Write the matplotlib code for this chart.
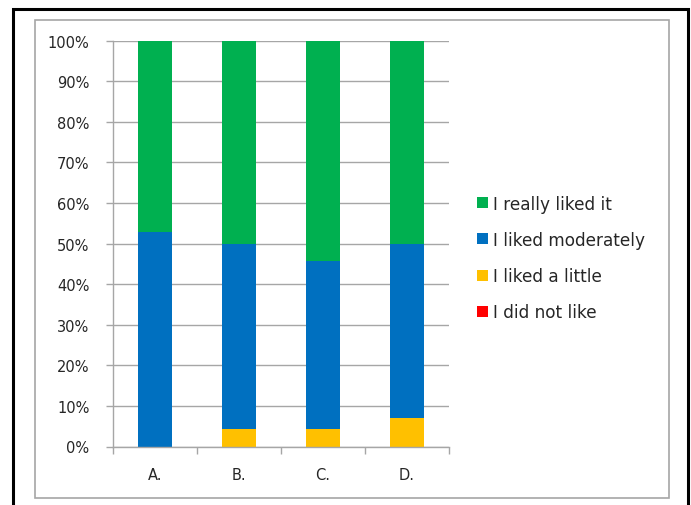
import matplotlib
matplotlib.use("Agg")
import matplotlib.pyplot as plt
from matplotlib.patches import Rectangle
from matplotlib.ticker import FuncFormatter, FixedLocator
import numpy as np

categories = ["A.", "B.", "C.", "D."]
did_not_like = [0.0, 0.0, 0.0, 0.0]
liked_little = [0.0, 4.2, 4.2, 7.1]
liked_moderately = [52.8, 45.8, 41.4, 42.9]
really_liked = [47.2, 50.0, 54.4, 50.0]

series_labels = ["I did not like", "I liked a little", "I liked moderately", "I really liked it"]
series_colors = ["#FF0000", "#FFC000", "#0070C0", "#00B050"]

plt.rcParams["font.family"] = ["DejaVu Sans"]

W, H = 691, 506
fig = plt.figure(figsize=(W / 100, H / 100), dpi=100)

# outer black frame and inner chart-area border
fig.patches.append(Rectangle((13 / W, -0.02), (688 - 13) / W, 1.02 - 10 / H,
                             transform=fig.transFigure, fill=False,
                             edgecolor="black", linewidth=2.2, zorder=0))
fig.patches.append(Rectangle((35 / W, 1 - 499 / H), (669 - 35) / W, (499 - 21) / H,
                             transform=fig.transFigure, fill=False,
                             edgecolor="#A6A6A6", linewidth=1.2, zorder=0))

ax = fig.add_axes([113 / W, 1 - 447.5 / H, (449 - 113) / W, (447.5 - 41.7) / H])

x = np.arange(len(categories))
bottom = np.zeros(len(categories))
handles = []
for vals, lab, col in zip([did_not_like, liked_little, liked_moderately, really_liked],
                          series_labels, series_colors):
    vals = np.array(vals)
    b = ax.bar(x, vals, width=0.405, bottom=bottom, color=col, label=lab,
               edgecolor="none", zorder=2)
    bottom += vals
    handles.append(b)

ax.set_xlim(-0.5, len(categories) - 0.5)
ax.set_ylim(0, 100)
ax.set_yticks(np.arange(0, 101, 10))
ax.yaxis.set_major_formatter(FuncFormatter(lambda v, p: f"{int(v)}%"))
ax.yaxis.grid(True, color="#A6A6A6", linewidth=1.0, zorder=0)
ax.set_axisbelow(True)

ax.set_xticks(x)
ax.set_xticklabels(categories)
ax.xaxis.set_minor_locator(FixedLocator(np.arange(-0.5, len(categories), 1.0)))
ax.tick_params(axis="x", which="major", length=0, pad=15, labelsize=10.5, colors="#262626")
ax.tick_params(axis="x", which="minor", length=5, width=1, color="#A6A6A6", direction="out")
ax.tick_params(axis="y", length=5, width=1, color="#A6A6A6", pad=12, labelsize=10.5,
               labelcolor="#262626")

for s in ["top", "right"]:
    ax.spines[s].set_visible(False)
for s in ["left", "bottom"]:
    ax.spines[s].set_color("#A6A6A6")
    ax.spines[s].set_linewidth(1.0)

leg = fig.legend(handles=handles[::-1], labels=series_labels[::-1],
                 loc="center left", bbox_to_anchor=(477 / W, 1 - 259 / H),
                 frameon=False, fontsize=12.2, handlelength=0.62, handleheight=0.62,
                 handletextpad=0.3, labelspacing=1.08, borderaxespad=0, borderpad=0)
for t in leg.get_texts():
    t.set_color("#262626")

fig.savefig("out.png", dpi=100)
